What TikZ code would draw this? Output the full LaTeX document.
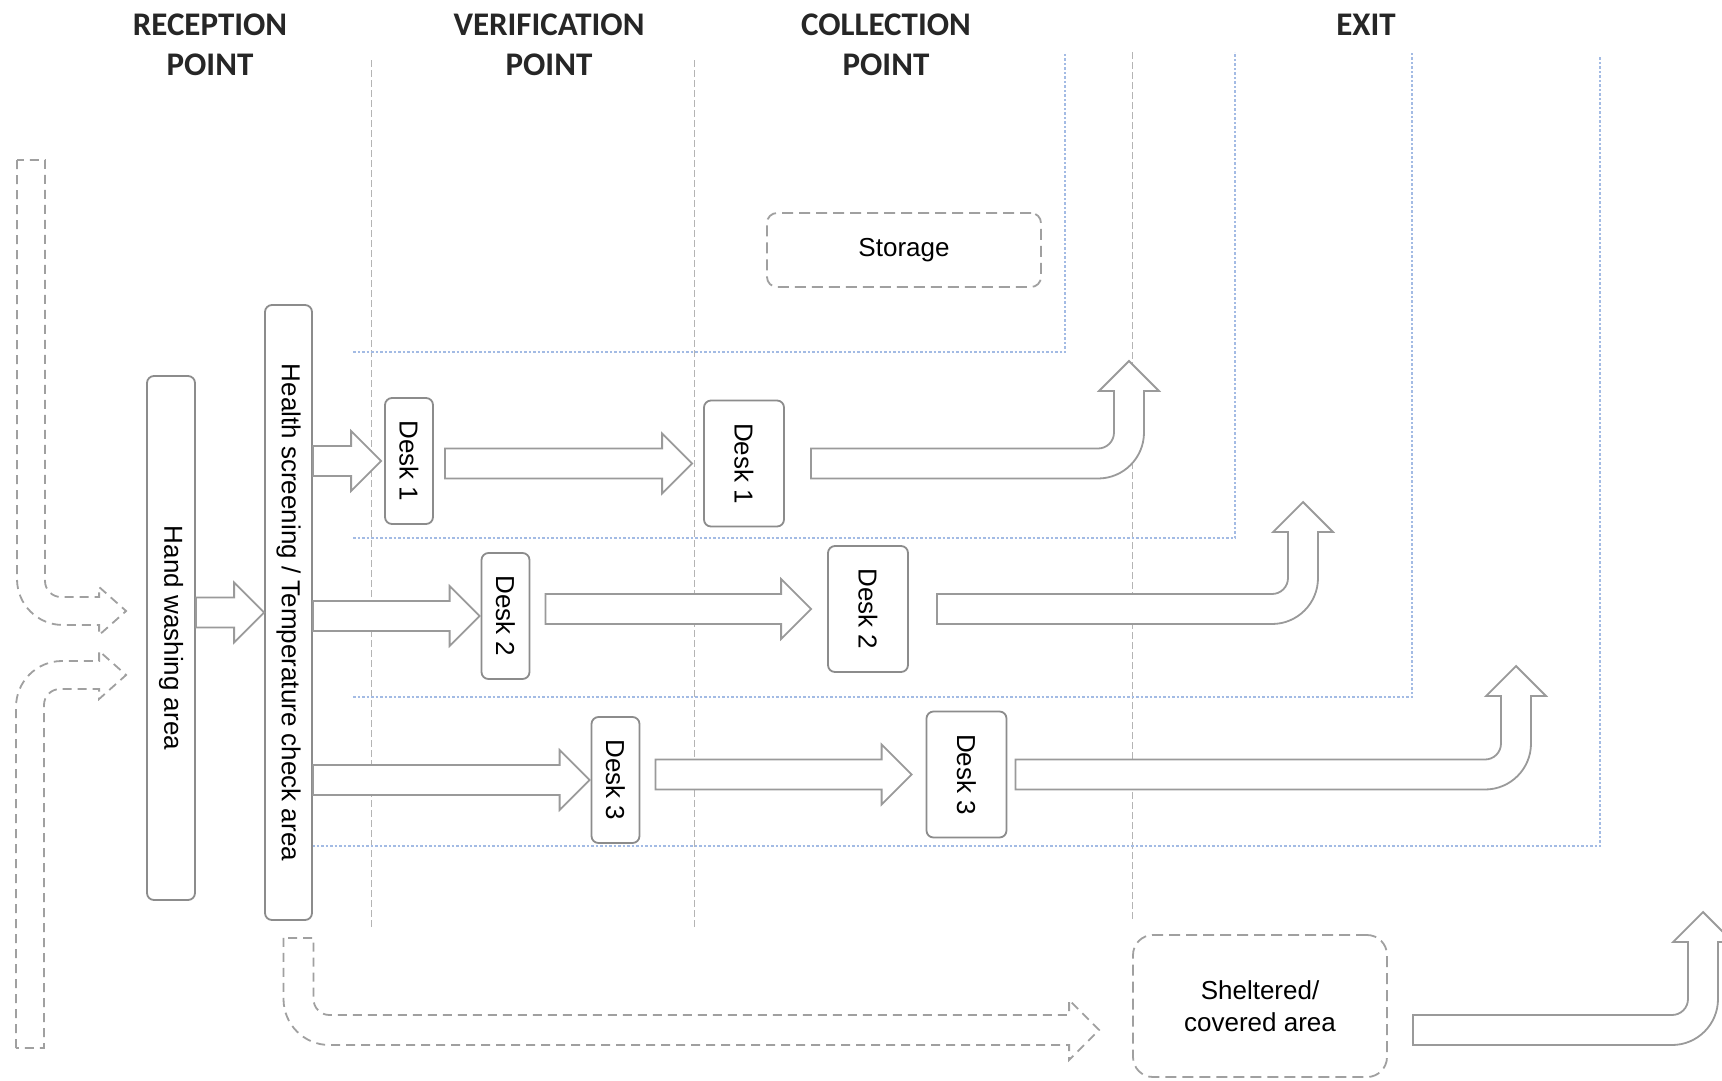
\documentclass[tikz,border=0pt]{standalone}
\usepackage{fontspec}
\setmainfont{Liberation Sans}
\newfontfamily\headfont{Carlito}
\usetikzlibrary{calc}

\definecolor{arrowgray}{HTML}{9A9A9A}
\definecolor{boxgray}{HTML}{8C8C8C}
\definecolor{dashgray}{HTML}{A0A0A0}
\definecolor{zoneblue}{HTML}{A3BBE4}
\definecolor{lanegray}{HTML}{B4B4B4}

\newcommand{\shaft}{15pt}
\newcommand{\headw}{30pt}
\newcommand{\headl}{30pt}
\newcommand{\bendin}{16pt}
\newcommand{\bendout}{46pt}

% straight block arrow onto the middle of the target's west side
\newcommand{\flowarrow}[4]{%
  \draw[blockarrow] let \p1=(#1.east), \p2=(#2.west) in
    (\x1+#3,\y2+\shaft) -- (\x2-#4-\headl,\y2+\shaft) -- (\x2-#4-\headl,\y2+\headw)
    -- (\x2-#4,\y2) -- (\x2-#4-\headl,\y2-\headw) -- (\x2-#4-\headl,\y2-\shaft)
    -- (\x1+#3,\y2-\shaft) -- cycle;}

% right, then up to the tip
\newcommand{\exitarrow}[2]{%
  \draw[blockarrow] let \p1=(#1), \p2=(#2) in
    (\x1,\y1+\shaft) -- (\x2-\shaft-\bendin,\y1+\shaft)
    arc[start angle=-90,end angle=0,radius=\bendin]
    -- (\x2-\shaft,\y2-\headl) -- (\x2-\headw,\y2-\headl) -- (\x2,\y2)
    -- (\x2+\headw,\y2-\headl) -- (\x2+\shaft,\y2-\headl)
    -- (\x2+\shaft,\y1-\shaft+\bendout)
    arc[start angle=0,end angle=-90,radius=\bendout]
    -- (\x1,\y1-\shaft) -- cycle;}

% down (1) or up (-1), then right to the tip
\newcommand{\queuearrow}[3]{%
  \draw[queueline] let \p1=(#1), \p2=(#2) in
    (\x1-\shaft,\y1) -- (\x1-\shaft,{\y2-(#3)*\shaft+(#3)*\bendout})
    arc[start angle=180,delta angle={90*(#3)},radius=\bendout]
    -- (\x2-\headl,{\y2-(#3)*\shaft}) -- (\x2-\headl,{\y2-(#3)*\headw}) -- (\x2,\y2)
    -- (\x2-\headl,{\y2+(#3)*\headw}) -- (\x2-\headl,{\y2+(#3)*\shaft})
    -- (\x1+\shaft+\bendin,{\y2+(#3)*\shaft})
    arc[start angle={180+90*(#3)},delta angle={-90*(#3)},radius=\bendin]
    -- (\x1+\shaft+0pt,\y1) -- cycle;}

\begin{document}
\begin{tikzpicture}[x=1pt,y=1pt,
    font=\fontsize{26}{32}\selectfont,
    blockarrow/.style={draw=arrowgray,line width=1.8pt,fill=white},
    queueline/.style={draw=dashgray,line width=1.8pt,fill=white,dash pattern=on 9pt off 6pt},
    areabox/.style={draw=boxgray,line width=1.8pt,fill=white,rounded corners=7pt,inner sep=0pt},
    vdesk/.style={areabox,minimum width=48pt,minimum height=126pt},
    cdesk/.style={areabox,minimum width=80pt,minimum height=126pt},
    dashbox/.style={draw=dashgray,line width=1.8pt,fill=white,dash pattern=on 11pt off 6pt,align=center},
    zone/.style={draw=zoneblue,line width=1.3pt,dash pattern=on 2.5pt off 2pt},
    lane/.style={draw=lanegray,line width=1pt,dash pattern=on 7pt off 3pt},
    heading/.style={font=\headfont\bfseries\fontsize{33}{40}\selectfont,align=center,text=black!85}]
  \useasboundingbox (0,0) rectangle (1722,-1080);

  \node[heading,name=hrec] at (210,-45) {RECEPTION\\POINT};
  \node[heading,name=hver] at (549,-45) {VERIFICATION\\POINT};
  \node[heading,name=hcol] at (886,-45) {COLLECTION\\POINT};
  \node[heading,name=hexit] at (1366,-25) {EXIT};

  % lanes and zones
  \draw[lane] (371,-60) -- (371,-930);
  \draw[lane] (694,-60) -- (694,-930);
  \draw[lane] (1132,-52) -- (1132,-920);
  \draw[zone] (353,-352) -- (1065,-352) -- (1065,-52);
  \draw[zone] (353,-538) -- (1235,-538) -- (1235,-52);
  \draw[zone] (353,-697) -- (1412,-697) -- (1412,-52);
  \draw[zone] (312,-846) -- (1600,-846) -- (1600,-57);

  \node[areabox,name=hw,minimum width=48pt,minimum height=524pt] at (171,-638)
    {\rotatebox{-90}{Hand washing area}};
  \node[areabox,name=hs,minimum width=47pt,minimum height=615pt] at (288.5,-612.5)
    {\rotatebox{-90}{Health screening / Temperature check area}};

  \node[vdesk,name=vdesk1] at (409,-461) {\rotatebox{-90}{Desk 1}};
  \node[vdesk,name=vdesk2] at (505.5,-616) {\rotatebox{-90}{Desk 2}};
  \node[vdesk,name=vdesk3] at (615.5,-780) {\rotatebox{-90}{Desk 3}};
  \node[cdesk,name=cdesk1] at (744,-463.5) {\rotatebox{-90}{Desk 1}};
  \node[cdesk,name=cdesk2] at (868,-609) {\rotatebox{-90}{Desk 2}};
  \node[cdesk,name=cdesk3] at (966.5,-774.5) {\rotatebox{-90}{Desk 3}};

  \node[dashbox,name=storage,rounded corners=10pt,minimum width=274pt,minimum height=74pt]
    at (904,-250) {Storage};
  \node[dashbox,name=shelter,rounded corners=20pt,minimum width=254pt,minimum height=142pt]
    at (1260,-1006) {Sheltered/\\covered area};

  \coordinate (queue1) at (31,-160);
  \coordinate (queue2) at (30,-1048);
  \coordinate (exit1) at (1129,-361);
  \coordinate (exit2) at (1303,-502);
  \coordinate (exit3) at (1516,-666);
  \coordinate (exit4) at (1703,-912);

  % queues in, narrower heads
  {\renewcommand{\headw}{24pt}\renewcommand{\headl}{27pt}\renewcommand{\shaft}{14pt}
  \queuearrow{queue1}{[shift={(-20pt,27pt)}]hw.west}{1}
  \queuearrow{queue2}{[shift={(-20pt,-37pt)}]hw.west}{-1}}
  \queuearrow{[shift={(10pt,-17pt)}]hs.south}{[shift={(-33pt,-24pt)}]shelter.west}{1}

  \flowarrow{hw}{hs}{0pt}{0pt}
  \flowarrow{hs}{vdesk1}{0pt}{3pt}
  \flowarrow{hs}{vdesk2}{0pt}{1pt}
  \flowarrow{hs}{vdesk3}{0pt}{1pt}
  \flowarrow{vdesk1}{cdesk1}{11pt}{11pt}
  \flowarrow{vdesk2}{cdesk2}{15pt}{16pt}
  \flowarrow{vdesk3}{cdesk3}{15pt}{14pt}

  \exitarrow{[xshift=26pt]cdesk1.east}{exit1}
  \exitarrow{[xshift=28pt]cdesk2.east}{exit2}
  \exitarrow{[xshift=8pt]cdesk3.east}{exit3}
  \exitarrow{[shift={(25pt,-24pt)}]shelter.east}{exit4}
\end{tikzpicture}
\end{document}
